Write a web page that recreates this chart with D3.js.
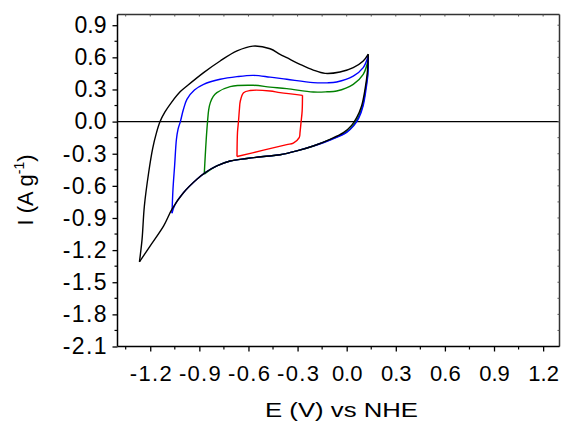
<!DOCTYPE html>
<html><head><meta charset="utf-8">
<script src="https://cdn.jsdelivr.net/npm/d3@7/dist/d3.min.js"></script>
<style>body{margin:0;background:#fff} svg{display:block}</style>
</head><body><svg id="c" width="562" height="424"></svg>
<script>
// ---- axis ticks ----
const xTicks = [-1.2, -0.9, -0.6, -0.3, 0.0, 0.3, 0.6, 0.9, 1.2];
const xTickLabels = ["-1.2", "-0.9", "-0.6", "-0.3", "0.0", "0.3", "0.6", "0.9", "1.2"];
const xMinor = [-1.35, -1.05, -0.75, -0.45, -0.15, 0.15, 0.45, 0.75, 1.05];
const yTicks = [-2.1, -1.8, -1.5, -1.2, -0.9, -0.6, -0.3, 0.0, 0.3, 0.6, 0.9];
const yTickLabels = ["-2.1", "-1.8", "-1.5", "-1.2", "-0.9", "-0.6", "-0.3", "0.0", "0.3", "0.6", "0.9"];
const yMinor = [-1.95, -1.65, -1.35, -1.05, -0.75, -0.45, -0.15, 0.15, 0.45, 0.75];
const xDomain = [-1.4, 1.3];
const yDomain = [-2.1, 1.0];
const xTitle = "E (V) vs NHE";

// ---- black loop (-1.27 .. 0.13 V) ----
const blackFwdE = [-1.266, -1.25, -1.236, -1.21, -1.185, -1.163, -1.14, -1.11, -1.07, -1.016, -0.976, -0.874, -0.773, -0.67, -0.573, -0.468, -0.407, -0.366, -0.285, -0.204, -0.132, -0.041, 0.04, 0.101, 0.132];
const blackFwdI = [-1.31, -1.10, -0.79, -0.48, -0.25, -0.11, 0.0, 0.09, 0.18, 0.28, 0.332, 0.457, 0.566, 0.66, 0.705, 0.68, 0.628, 0.597, 0.535, 0.481, 0.45, 0.463, 0.504, 0.566, 0.63];
const blackRevE = [0.132, 0.126, 0.112, 0.091, 0.061, 0.03, -0.02, -0.102, -0.204, -0.305, -0.407, -0.508, -0.61, -0.712, -0.793, -0.864, -0.915, -0.996, -1.067, -1.118, -1.2, -1.266];
const blackRevI = [0.63, 0.457, 0.301, 0.146, 0.037, -0.035, -0.103, -0.165, -0.228, -0.274, -0.31, -0.326, -0.345, -0.368, -0.414, -0.476, -0.538, -0.662, -0.818, -0.974, -1.16, -1.31];

// ---- blue loop (-1.07 .. 0.13 V) ----
const blueFwdE = [-1.067, -1.061, -1.051, -1.04, -1.03, -1.016, -0.998, -0.976, -0.93, -0.874, -0.773, -0.67, -0.57, -0.468, -0.366, -0.204, -0.12, -0.061, 0.04, 0.101, 0.132];
const blueFwdI = [-0.855, -0.63, -0.41, -0.165, -0.07, 0.0, 0.11, 0.208, 0.295, 0.348, 0.395, 0.42, 0.432, 0.415, 0.395, 0.364, 0.362, 0.37, 0.425, 0.504, 0.615];
const blueRevE = [0.132, 0.13, 0.118, 0.1, 0.075, 0.045, 0.0, -0.09, -0.204, -0.305, -0.407, -0.508, -0.61, -0.712, -0.793, -0.864, -0.915, -0.996, -1.05, -1.067];
const blueRevI = [0.615, 0.45, 0.30, 0.146, 0.037, -0.035, -0.10, -0.165, -0.228, -0.274, -0.31, -0.326, -0.345, -0.368, -0.414, -0.476, -0.538, -0.662, -0.78, -0.855];

// ---- green loop (-0.87 .. 0.13 V) ----
const greenFwdE = [-0.87, -0.864, -0.858, -0.85, -0.843, -0.833, -0.815, -0.793, -0.712, -0.57, -0.468, -0.366, -0.204, -0.12, -0.061, 0.04, 0.101, 0.132];
const greenFwdI = [-0.49, -0.32, -0.165, 0.0, 0.11, 0.177, 0.235, 0.27, 0.326, 0.339, 0.322, 0.308, 0.276, 0.278, 0.286, 0.348, 0.441, 0.58];
const greenRevE = [0.132, 0.128, 0.115, 0.097, 0.07, 0.04, -0.005, -0.095, -0.204, -0.305, -0.407, -0.508, -0.61, -0.712, -0.793, -0.87];
const greenRevI = [0.58, 0.44, 0.30, 0.146, 0.037, -0.035, -0.10, -0.165, -0.228, -0.274, -0.31, -0.326, -0.345, -0.368, -0.414, -0.49];

// ---- red loop (-0.67 .. -0.27 V) ----
const redFwdE = [-0.67, -0.667, -0.661, -0.655, -0.65, -0.63, -0.59, -0.468, -0.407, -0.27];
const redFwdI = [-0.326, -0.10, 0.0, 0.12, 0.19, 0.27, 0.29, 0.286, 0.27, 0.245];
const redRevE = [-0.27, -0.272, -0.279, -0.285, -0.29, -0.326, -0.366, -0.508, -0.67];
const redRevI = [0.245, 0.10, -0.01, -0.10, -0.15, -0.20, -0.215, -0.267, -0.326];

const zip = (a, b) => a.map((v, i) => [v, b[i]]);
const series = [
  {color: "#ff0000", fwd: zip(redFwdE, redFwdI), rev: zip(redRevE, redRevI)},
  {color: "#008000", fwd: zip(greenFwdE, greenFwdI), rev: zip(greenRevE, greenRevI)},
  {color: "#0000ff", fwd: zip(blueFwdE, blueFwdI), rev: zip(blueRevE, blueRevI)},
  {color: "#000000", fwd: zip(blackFwdE, blackFwdI), rev: zip(blackRevE, blackRevI)}
];

const svg = d3.select("#c");
const font = "'Liberation Sans', Arial, sans-serif";
const L = 117.5, R = 559.5, T = 14.5, B = 346.5;
const x = d3.scaleLinear().domain(xDomain).range([L, R]);
const y = d3.scaleLinear().domain(yDomain).range([B, T]);

// zero line
svg.append("line").attr("x1", L).attr("x2", R).attr("y1", y(0)).attr("y2", y(0))
  .attr("stroke", "#000").attr("stroke-width", 1.3);

// curves
const line = d3.line().x(d => x(d[0])).y(d => y(d[1])).curve(d3.curveCatmullRom.alpha(0.5));
const g = svg.append("g");
series.forEach(s => {
  [s.fwd, s.rev].forEach(pts => {
    g.append("path").attr("d", line(pts)).attr("fill", "none")
      .attr("stroke", s.color).attr("stroke-width", 1.4).attr("stroke-linejoin", "round");
  });
});

// top & right frame with tiny inward ticks
svg.append("line").attr("x1", L).attr("x2", R).attr("y1", T).attr("y2", T).attr("stroke", "#333").attr("stroke-width", 1.5);
svg.append("line").attr("x1", R).attr("x2", R).attr("y1", T).attr("y2", B).attr("stroke", "#333").attr("stroke-width", 1.5);
xTicks.concat(xMinor).forEach(v => svg.append("line").attr("x1", x(v)).attr("x2", x(v)).attr("y1", T).attr("y2", T + 2).attr("stroke", "#555"));
yTicks.concat(yMinor).forEach(v => svg.append("line").attr("x1", R).attr("x2", R - 2).attr("y1", y(v)).attr("y2", y(v)).attr("stroke", "#555"));

function widen(sel) {
  sel.each(function() {
    const t = d3.select(this);
    if (t.text().startsWith("-")) {
      const w = this.getComputedTextLength();
      t.attr("textLength", w + 4).attr("lengthAdjust", "spacing");
    }
  });
}

// bottom axis
const xAxis = d3.axisBottom(x).tickValues(xTicks).tickSize(5).tickPadding(14)
  .tickFormat((d, i) => xTickLabels[i]);
const gx = svg.append("g").attr("transform", `translate(0,${B})`).call(xAxis);
gx.selectAll("line").attr("stroke-width", 1.3);
gx.select(".domain").attr("stroke-width", 1.5).attr("d", `M${L},0H${R}`);
gx.selectAll("text").attr("font-family", font).attr("font-size", 22).attr("fill", "#000").call(widen);
gx.selectAll(".minor").data(xMinor).enter().append("line").attr("class", "minor")
  .attr("x1", d => x(d)).attr("x2", d => x(d)).attr("y1", 0).attr("y2", 3).attr("stroke", "#000").attr("stroke-width", 1.2);

// left axis
const yAxis = d3.axisLeft(y).tickValues(yTicks).tickSize(5).tickPadding(6)
  .tickFormat((d, i) => yTickLabels[i]);
const gy = svg.append("g").attr("transform", `translate(${L},0)`).call(yAxis);
gy.selectAll("line").attr("stroke-width", 1.3);
gy.select(".domain").attr("stroke-width", 1.5).attr("d", `M0,${T}V${B}`);
gy.selectAll("text").attr("font-family", font).attr("font-size", 23).attr("fill", "#000").call(widen);
gy.selectAll(".minor").data(yMinor).enter().append("line").attr("class", "minor")
  .attr("y1", d => y(d)).attr("y2", d => y(d)).attr("x1", 0).attr("x2", -3).attr("stroke", "#000").attr("stroke-width", 1.2);

// axis titles
svg.append("text").attr("x", 341.5).attr("y", 417).attr("text-anchor", "middle")
  .attr("font-family", font).attr("font-size", 21).attr("fill", "#000")
  .attr("textLength", 153).attr("lengthAdjust", "spacingAndGlyphs").text(xTitle);
const yl = svg.append("text").attr("transform", "translate(33,190) rotate(-90)")
  .attr("text-anchor", "middle").attr("font-family", font).attr("font-size", 22).attr("fill", "#000");
yl.append("tspan").text("I (A g");
yl.append("tspan").attr("dy", -9).attr("font-size", 14).text("-1");
yl.append("tspan").attr("dy", 9).text(")");
</script></body></html>
